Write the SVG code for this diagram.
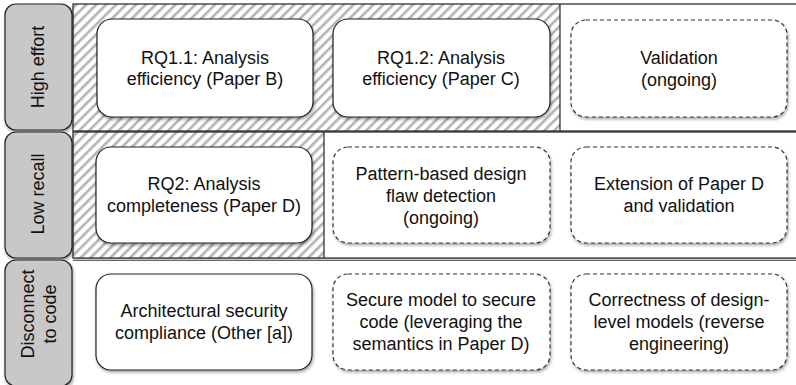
<svg xmlns="http://www.w3.org/2000/svg" width="796" height="385" viewBox="0 0 796 385">
<defs>
<pattern id="hatch" width="7" height="7" patternUnits="userSpaceOnUse" patternTransform="rotate(45)">
<rect width="7" height="7" fill="#ffffff"/>
<rect x="0" y="0" width="2.6" height="7" fill="#b4b4b4"/>
</pattern>
<filter id="sh" x="-10%" y="-10%" width="130%" height="130%">
<feDropShadow dx="1" dy="2" stdDeviation="1.5" flood-color="#000" flood-opacity="0.35"/>
</filter>
</defs>
<style>
.lab{fill:#c8c8c8;stroke:#222;stroke-width:1.2;filter:url(#sh)}
.lt{font-family:"Liberation Sans",Arial,sans-serif;font-size:18px;fill:#111;text-anchor:middle}
.nd{fill:#fff;stroke:#222;stroke-width:1.2;filter:url(#sh)}
.dn{fill:#fff;stroke:#333;stroke-width:1.2;stroke-dasharray:4 3;filter:url(#sh)}
.t{font-family:"Liberation Sans",Arial,sans-serif;font-size:18px;fill:#111;text-anchor:middle}
.rowb{fill:none;stroke:#222;stroke-width:1.2}
</style>
<rect width="796" height="385" fill="#fff"/>
<g id="rows">
<rect x="73" y="4" width="740" height="127" fill="#fff" filter="url(#sh)"/>
<rect x="73" y="4" width="487" height="127" fill="url(#hatch)"/>
<rect x="73" y="4" width="740" height="127" class="rowb"/>
<line x1="560" y1="4" x2="560" y2="131" stroke="#222" stroke-width="1.2"/>
<rect x="73" y="132" width="740" height="126" fill="#fff" filter="url(#sh)"/>
<rect x="73" y="132" width="251" height="126" fill="url(#hatch)"/>
<rect x="73" y="132" width="740" height="126" class="rowb"/>
<line x1="324" y1="132" x2="324" y2="258" stroke="#222" stroke-width="1.2"/>
<rect x="73" y="260" width="740" height="130" fill="#fff" filter="url(#sh)"/>
<line x1="73" y1="260.5" x2="796" y2="260.5" stroke="#666" stroke-width="1.2"/>
</g>
<g id="label-high-effort">
<rect x="5" y="4" width="67" height="126" rx="11" class="lab"/>
<text class="lt" transform="translate(44,67) rotate(-90)">High effort</text>
</g>
<g id="label-low-recall">
<rect x="5" y="132" width="67" height="126" rx="11" class="lab"/>
<text class="lt" transform="translate(44,194) rotate(-90)">Low recall</text>
</g>
<g id="label-disconnect">
<rect x="5" y="260" width="67" height="126" rx="11" class="lab"/>
<text class="lt" transform="translate(34,314) rotate(-90)">Disconnect</text>
<text class="lt" transform="translate(56,314) rotate(-90)">to code</text>
</g>
<g id="rq11">
<rect x="97" y="19" width="216" height="98" rx="15" class="nd"/>
<text class="t" x="205" y="64">RQ1.1: Analysis</text>
<text class="t" x="205" y="85">efficiency (Paper B)</text>
</g>
<g id="rq12">
<rect x="333" y="19" width="217" height="98" rx="15" class="nd"/>
<text class="t" x="441" y="64">RQ1.2: Analysis</text>
<text class="t" x="441" y="85">efficiency (Paper C)</text>
</g>
<g id="validation">
<rect x="571" y="20" width="216" height="97" rx="15" class="dn"/>
<text class="t" x="679" y="64">Validation</text>
<text class="t" x="679" y="86">(ongoing)</text>
</g>
<g id="rq2">
<rect x="96" y="147" width="216" height="96" rx="15" class="nd"/>
<text class="t" x="204" y="190">RQ2: Analysis</text>
<text class="t" x="204" y="212">completeness (Paper D)</text>
</g>
<g id="pattern">
<rect x="333" y="147" width="217" height="96" rx="15" class="dn"/>
<text class="t" x="441" y="180">Pattern-based design</text>
<text class="t" x="441" y="202">flaw detection</text>
<text class="t" x="441" y="224">(ongoing)</text>
</g>
<g id="extension">
<rect x="571" y="147" width="216" height="96" rx="15" class="dn"/>
<text class="t" x="679" y="190">Extension of Paper D</text>
<text class="t" x="679" y="212">and validation</text>
</g>
<g id="arch">
<rect x="96" y="274" width="216" height="96" rx="15" class="nd"/>
<text class="t" x="204" y="317">Architectural security</text>
<text class="t" x="204" y="339">compliance (Other [a])</text>
</g>
<g id="secure">
<rect x="333" y="274" width="217" height="96" rx="15" class="dn"/>
<text class="t" x="441" y="306">Secure model to secure</text>
<text class="t" x="441" y="328">code (leveraging the</text>
<text class="t" x="441" y="350">semantics in Paper D)</text>
</g>
<g id="correctness">
<rect x="571" y="274" width="216" height="96" rx="15" class="dn"/>
<text class="t" x="679" y="306">Correctness of design-</text>
<text class="t" x="679" y="328">level models (reverse</text>
<text class="t" x="679" y="350">engineering)</text>
</g>
<g id="connectors"></g>
</svg>
